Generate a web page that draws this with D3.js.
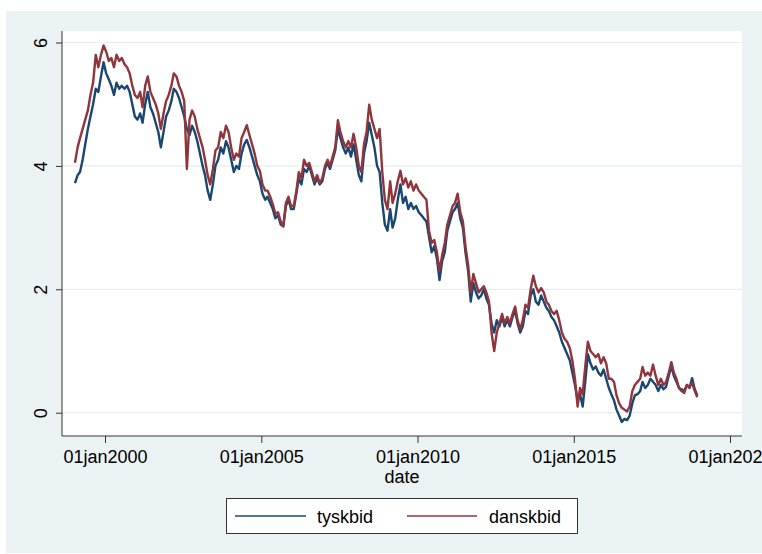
<!DOCTYPE html>
<html>
<head>
<meta charset="utf-8">
<script src="https://cdn.jsdelivr.net/npm/d3@7"></script>
<style>
  html, body { margin: 0; padding: 0; background: #ffffff; }
  svg { display: block; }
  text { font-family: "Liberation Sans", Arial, Helvetica, sans-serif; fill: #000; }
</style>
</head>
<body>
<svg id="chart" width="762" height="554"></svg>
<script>
// Monthly observations, January 1999 through December 2018
const firstMonth = "1999-01";

const tyskbid = [
  3.72, 3.85, 3.9, 4.1, 4.35, 4.6, 4.8, 5.0, 5.25, 5.2, 5.45, 5.68,
  5.5, 5.4, 5.3, 5.15, 5.35, 5.25, 5.3, 5.25, 5.3, 5.2, 5.0, 4.8,
  4.75, 4.85, 4.7, 5.0, 5.2, 4.95, 4.85, 4.7, 4.55, 4.3, 4.55, 4.8,
  4.9, 5.05, 5.25, 5.2, 5.1, 4.95, 4.8, 4.6, 4.5, 4.65, 4.55, 4.4,
  4.2, 4.0, 3.85, 3.6, 3.45, 3.7, 4.0, 4.1, 4.3, 4.2, 4.4, 4.3,
  4.1, 3.9, 4.0, 3.95, 4.2, 4.35, 4.42, 4.3, 4.15, 4.0, 3.85, 3.75,
  3.55, 3.45, 3.5, 3.4, 3.3, 3.15, 3.2, 3.05, 3.02, 3.35, 3.45, 3.3,
  3.3, 3.55, 3.8, 3.7, 3.95, 3.9, 4.0, 3.85, 3.7, 3.8, 3.7, 3.75,
  3.95, 4.05, 3.95, 4.1, 4.25, 4.6, 4.45, 4.3, 4.2, 4.3, 4.15, 4.35,
  4.1, 3.85, 3.75, 4.2, 4.4, 4.7, 4.5, 4.3, 4.0, 3.9, 3.4, 3.05,
  2.95, 3.3, 3.0, 3.15, 3.45, 3.7, 3.4, 3.5, 3.3, 3.4, 3.3, 3.35,
  3.25, 3.2, 3.15, 3.1, 2.85, 2.6, 2.7, 2.5, 2.15, 2.45, 2.6, 2.95,
  3.1, 3.25, 3.3, 3.4, 3.15, 3.0, 2.6, 2.3, 1.8, 2.1, 1.95, 1.85,
  1.9, 2.0, 1.85, 1.75, 1.45, 1.3, 1.5, 1.4, 1.55, 1.4, 1.5, 1.4,
  1.55, 1.65, 1.45, 1.3, 1.4, 1.65, 1.6, 1.9, 2.0, 1.8, 1.75, 1.9,
  1.8, 1.7, 1.65, 1.55, 1.5, 1.4, 1.3, 1.15, 1.05, 0.95, 0.85, 0.65,
  0.45, 0.2, 0.3, 0.1, 0.5, 0.95, 0.8, 0.7, 0.75, 0.65, 0.6, 0.7,
  0.55, 0.4, 0.3, 0.2, 0.05, -0.05, -0.15, -0.1, -0.12, -0.05, 0.15, 0.28,
  0.3, 0.35, 0.5, 0.4, 0.45, 0.55, 0.5, 0.45, 0.35, 0.45, 0.38, 0.42,
  0.6, 0.75, 0.6, 0.5, 0.4, 0.38, 0.35, 0.45, 0.4, 0.56, 0.38, 0.28
];

const danskbid = [
  4.05, 4.3, 4.45, 4.6, 4.75, 4.9, 5.15, 5.35, 5.8, 5.6, 5.8, 5.95,
  5.85, 5.7, 5.75, 5.6, 5.8, 5.7, 5.75, 5.65, 5.6, 5.5, 5.3, 5.15,
  5.1, 5.2, 4.95, 5.3, 5.45, 5.2, 5.1, 5.0, 4.85, 4.6, 4.85, 5.05,
  5.15, 5.3, 5.5, 5.45, 5.3, 5.2, 5.05, 3.95, 4.75, 4.9, 4.8, 4.6,
  4.45, 4.3, 4.1, 3.85, 3.7, 3.95, 4.25, 4.3, 4.55, 4.45, 4.65, 4.55,
  4.3, 4.1, 4.2, 4.15, 4.45, 4.55, 4.66, 4.5, 4.35, 4.2, 4.0, 3.92,
  3.7, 3.6, 3.6, 3.5, 3.38, 3.22, 3.25, 3.1, 3.02, 3.4, 3.5, 3.35,
  3.35, 3.6, 3.9, 3.8, 4.1, 4.0, 4.05, 3.9, 3.75, 3.85, 3.72, 3.8,
  4.0, 4.1, 4.0, 4.15, 4.3, 4.74, 4.55, 4.4, 4.3, 4.4, 4.3, 4.52,
  4.3, 4.0, 3.9, 4.35, 4.55, 4.99, 4.75, 4.6, 4.45, 4.6, 3.9, 3.45,
  3.3, 3.75, 3.4, 3.55, 3.75, 3.92, 3.7, 3.8, 3.65, 3.75, 3.6, 3.7,
  3.6, 3.55, 3.5, 3.45, 2.95, 2.75, 2.8, 2.6, 2.3, 2.55, 2.75, 3.05,
  3.2, 3.35, 3.4, 3.55, 3.25, 3.1, 2.7, 2.4, 1.95, 2.25, 2.1, 1.95,
  2.0, 2.05, 1.95, 1.8, 1.3, 1.0, 1.3, 1.45, 1.6, 1.45, 1.55, 1.45,
  1.6, 1.72, 1.5, 1.35, 1.5, 1.75, 1.7, 2.0, 2.22, 2.05, 1.95, 2.02,
  1.95, 1.8, 1.75, 1.65, 1.6, 1.65, 1.5, 1.3, 1.2, 1.15, 1.05, 0.85,
  0.55, 0.1, 0.4, 0.3, 0.75, 1.15, 1.0, 0.95, 0.9, 0.95, 0.8, 0.9,
  0.8, 0.55, 0.55, 0.5, 0.28, 0.15, 0.08, 0.05, 0.02, 0.1, 0.35, 0.45,
  0.5, 0.55, 0.74, 0.6, 0.65, 0.6, 0.78, 0.6, 0.45, 0.55, 0.45, 0.5,
  0.65, 0.82, 0.65, 0.55, 0.4, 0.35, 0.32, 0.45, 0.42, 0.48, 0.35, 0.25
];

const yTicks = [0, 2, 4, 6];
const xTickLabels = ["01jan2000", "01jan2005", "01jan2010", "01jan2015", "01jan2020"];
const seriesNames = ["tyskbid", "danskbid"];
const seriesColors = ["#1a476f", "#90353b"];

const parseDay = d3.timeParse("%d%b%Y");
const fmtDay = d => d3.timeFormat("%d%b%Y")(d).toLowerCase();
const start = d3.timeParse("%Y-%m")(firstMonth);
const dates = tyskbid.map((_, i) => d3.timeDay.offset(d3.timeMonth.offset(start, i), 14));

const svg = d3.select("#chart");
const W = 762, H = 554;
const plot = { left: 62, right: 742, top: 31, bottom: 436 };

// graph region background
svg.append("rect").attr("x", 6).attr("y", 11).attr("width", W - 6).attr("height", H - 12)
  .attr("fill", "#eaf2f3");
svg.append("rect").attr("x", plot.left).attr("y", plot.top)
  .attr("width", plot.right - plot.left).attr("height", plot.bottom - plot.top)
  .attr("fill", "#ffffff");

const xTickDates = xTickLabels.map(s => parseDay(s.replace("jan", "Jan")));
const x = d3.scaleTime().domain([xTickDates[0], xTickDates[4]]).range([105, 730]);
const y = d3.scaleLinear().domain([0, 6]).range([412.7, 42.5]);

// horizontal grid
svg.append("g").selectAll("line").data(yTicks).join("line")
  .attr("x1", plot.left).attr("x2", plot.right)
  .attr("y1", d => y(d)).attr("y2", d => y(d))
  .attr("stroke", "#e6eef0").attr("stroke-width", 1.2);

// series
const line = d3.line().x((d, i) => x(dates[i])).y(d => y(d));
[tyskbid, danskbid].forEach((vals, k) => {
  svg.append("path").datum(vals)
    .attr("d", line)
    .attr("fill", "none")
    .attr("stroke", seriesColors[k])
    .attr("stroke-width", 2.4)
    .attr("stroke-linejoin", "round");
});

// y axis
const yAxis = d3.axisLeft(y).tickValues(yTicks).tickSize(6).tickPadding(0).tickFormat(d3.format("d"));
const gy = svg.append("g").attr("transform", `translate(${plot.left},0)`).call(yAxis);
gy.select(".domain").remove();
gy.selectAll(".tick line").attr("stroke", "#333").attr("stroke-width", 1);
gy.selectAll(".tick text")
  .attr("x", 0).attr("y", 0).attr("dy", null)
  .attr("text-anchor", "middle")
  .attr("transform", "translate(-15.5,0) rotate(-90)")
  .style("font-size", "18px")
  .style("font-family", "'Liberation Sans', Arial, sans-serif")
  .attr("fill", "#000");
svg.append("line").attr("x1", plot.left).attr("x2", plot.left)
  .attr("y1", plot.top).attr("y2", plot.bottom)
  .attr("stroke", "#333").attr("stroke-width", 1);

// x axis
const xAxis = d3.axisBottom(x).tickValues(xTickDates).tickSize(7).tickPadding(0).tickFormat(fmtDay);
const gx = svg.append("g").attr("transform", `translate(0,${plot.bottom})`).call(xAxis);
gx.select(".domain").remove();
gx.selectAll(".tick line").attr("stroke", "#333").attr("stroke-width", 1);
gx.selectAll(".tick text")
  .attr("y", 26.5).attr("dy", null)
  .style("font-size", "18px")
  .style("font-family", "'Liberation Sans', Arial, sans-serif")
  .attr("fill", "#000");
svg.append("line").attr("x1", plot.left).attr("x2", plot.right)
  .attr("y1", plot.bottom).attr("y2", plot.bottom)
  .attr("stroke", "#333").attr("stroke-width", 1);

svg.append("text").attr("x", (plot.left + plot.right) / 2).attr("y", 483)
  .attr("text-anchor", "middle").style("font-size", "18px").text("date");

// legend
const lg = svg.append("g");
lg.append("rect").attr("x", 226.5).attr("y", 498.5).attr("width", 351).attr("height", 35)
  .attr("fill", "#ffffff").attr("stroke", "#333").attr("stroke-width", 1);
const legendItems = [
  { x1: 235, x2: 306, tx: 317 },
  { x1: 407, x2: 477, tx: 489 }
];
legendItems.forEach((it, k) => {
  lg.append("line").attr("x1", it.x1).attr("x2", it.x2).attr("y1", 516).attr("y2", 516)
    .attr("stroke", seriesColors[k]).attr("stroke-width", 1.6);
  lg.append("text").attr("x", it.tx).attr("y", 523).style("font-size", "18px").text(seriesNames[k]);
});
</script>
</body>
</html>
